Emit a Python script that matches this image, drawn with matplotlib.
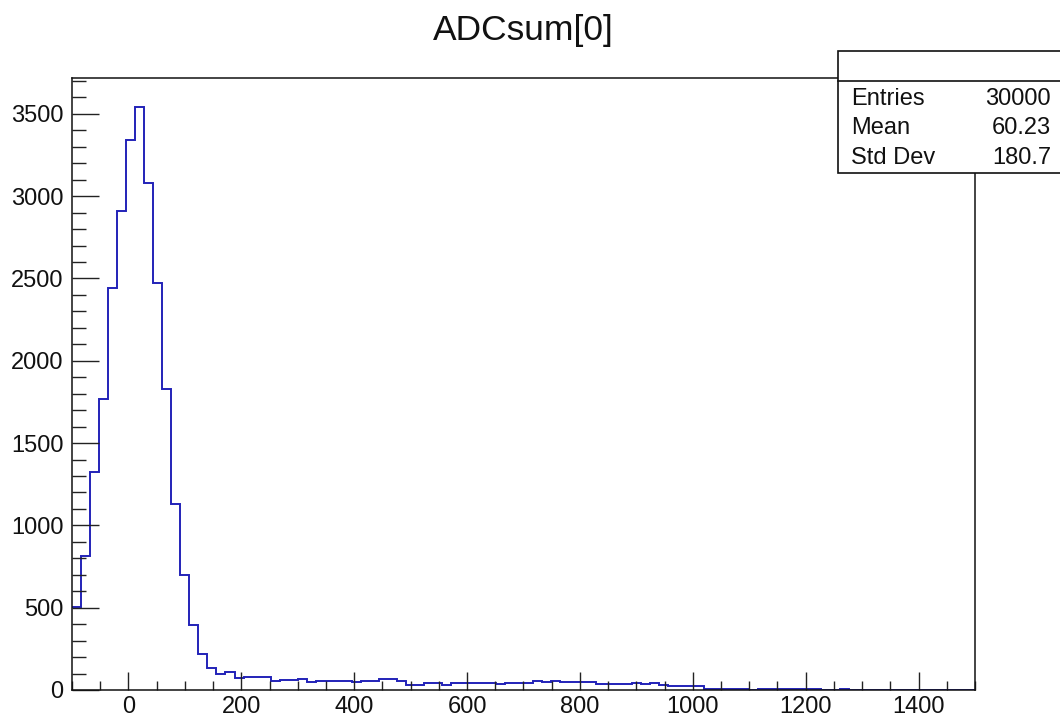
import numpy as np
import matplotlib
matplotlib.use("Agg")
import matplotlib.pyplot as plt
from matplotlib.patches import Rectangle
from matplotlib.lines import Line2D
from matplotlib.ticker import MultipleLocator

plt.rcParams['font.family'] = ['Liberation Sans', 'DejaVu Sans']

# Histogram of ADCsum[0]: 100 bins of width 16 between -100 and 1500
title = "ADCsum[0]"
bin_low, bin_high, n_bins = -100, 1500, 100
counts = [
    505, 814, 1323, 1768, 2442, 2911, 3343, 3541, 3079, 2473,
    1828, 1131, 697, 396, 218, 131, 97, 107, 75, 80,
    80, 80, 57, 62, 62, 66, 48, 55, 55, 55,
    55, 48, 52, 52, 66, 66, 57, 30, 30, 40,
    40, 30, 44, 44, 44, 44, 44, 34, 44, 44,
    44, 52, 46, 52, 46, 46, 46, 46, 38, 38,
    38, 38, 44, 34, 40, 30, 26, 26, 26, 26,
    8, 8, 8, 8, 8, 0, 8, 8, 8, 8,
    8, 8, 8, 0, 0, 8, 0, 0, 0, 0,
    0, 0, 0, 0, 0, 0, 0, 0, 0, 0,
]
stat_names = ["Entries", "Mean", "Std Dev"]
stat_values = ["30000", "60.23", "180.7"]

edges = np.linspace(bin_low, bin_high, n_bins + 1)

fig = plt.figure(figsize=(10.6, 7.18), dpi=100)
ax = fig.add_axes([0.0679, 0.039, 0.8519, 0.8524])

ax.stairs(counts, edges, baseline=None, color="#2222b8", linewidth=1.4)

ax.set_xlim(bin_low, bin_high)
ax.set_ylim(0, 1.05 * max(counts))

ax.xaxis.set_major_locator(MultipleLocator(200))
ax.xaxis.set_minor_locator(MultipleLocator(50))
ax.yaxis.set_major_locator(MultipleLocator(500))
ax.yaxis.set_minor_locator(MultipleLocator(100))

ax.tick_params(axis="x", which="major", direction="in", length=13, width=1.0,
               labelsize=17, pad=4, top=False, color="#222222", labelcolor="#111111")
ax.tick_params(axis="x", which="minor", direction="in", length=6.5, width=1.0,
               top=False, color="#222222")
ax.tick_params(axis="y", which="major", direction="in", length=19.5, width=1.0,
               labelsize=17, pad=6, right=False, color="#222222", labelcolor="#111111")
ax.tick_params(axis="y", which="minor", direction="in", length=10, width=1.0,
               right=False, color="#222222")

for sp in ax.spines.values():
    sp.set_linewidth(1.1)
    sp.set_color("#111111")

fig.text(0.4934, 0.958, title, ha="center", va="center", fontsize=25.5, color="#111111")

# Statistics box in the top-right corner
bx0, by_top, by_bot, by_sep = 838 / 1060, 1 - 51 / 718, 1 - 173 / 718, 1 - 81 / 718
box = Rectangle((bx0, by_bot), 1.05 - bx0, by_top - by_bot, transform=fig.transFigure,
                facecolor="white", edgecolor="#111111", linewidth=1.2, zorder=5)
fig.add_artist(box)
fig.add_artist(Line2D([bx0, 1.0], [by_sep, by_sep], transform=fig.transFigure,
                      color="#111111", linewidth=1.2, zorder=6))

row_y = [1 - 99.3 / 718, 1 - 128.3 / 718, 1 - 157.5 / 718]
for name, val, yy in zip(stat_names, stat_values, row_y):
    fig.text(0.8025, yy, name, ha="left", va="center", fontsize=17, zorder=7, color="#111111")
    fig.text(0.9915, yy, val, ha="right", va="center", fontsize=17, zorder=7, color="#111111")

fig.savefig("out.png", dpi=100)
